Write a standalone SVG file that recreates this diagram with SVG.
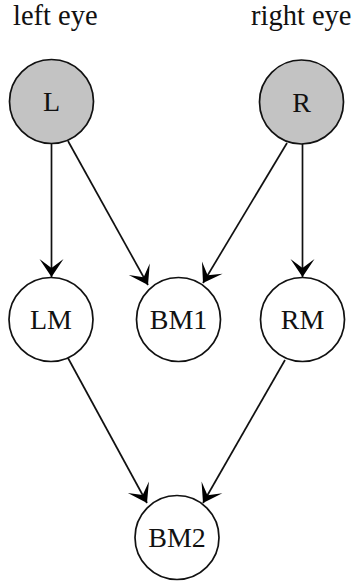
<svg xmlns="http://www.w3.org/2000/svg" width="352" height="581" viewBox="0 0 352 581">
<style>
  .node { stroke: #111; stroke-width: 1.7; fill: #fff; }
  .obs { fill: #c3c3c3; }
  .lbl { font-family: "Liberation Serif", "Times New Roman", serif; font-size: 28px; fill: #111; text-anchor: middle; }
  .hdr { font-family: "Liberation Serif", "Times New Roman", serif; font-size: 28.5px; fill: #111; }
  .edge { stroke: #111; stroke-width: 1.7; fill: none; marker-end: url(#arr); }
</style>
<defs>
  <marker id="arr" markerUnits="userSpaceOnUse" markerWidth="20" markerHeight="26" refX="18" refY="13" orient="auto" overflow="visible">
    <path d="M18,13 L0,1 L9,13 L0,25 Z" fill="#000"/>
  </marker>
</defs>
<rect width="352" height="581" fill="#fff"/>
<text class="hdr" x="13" y="25">left eye</text>
<text class="hdr" x="251" y="25">right eye</text>
<g id="connectors">
  <line class="edge" x1="51.5" y1="143" x2="51.5" y2="277"/>
  <line class="edge" x1="68" y1="141" x2="148" y2="285"/>
  <line class="edge" x1="287" y1="143" x2="203" y2="283"/>
  <line class="edge" x1="302.5" y1="144" x2="302.5" y2="277"/>
  <line class="edge" x1="68" y1="358" x2="147" y2="503"/>
  <line class="edge" x1="285" y1="360" x2="203" y2="503"/>
</g>
<g id="L">
  <circle class="node obs" cx="51.5" cy="101.5" r="42"/>
  <text class="lbl" x="51.5" y="111">L</text>
</g>
<g id="R">
  <circle class="node obs" cx="301.5" cy="102" r="42"/>
  <text class="lbl" x="301.5" y="111.5">R</text>
</g>
<g id="LM">
  <circle class="node" cx="51" cy="319.5" r="42"/>
  <text class="lbl" x="51" y="329">LM</text>
</g>
<g id="BM1">
  <circle class="node" cx="178.5" cy="319.5" r="42"/>
  <text class="lbl" x="178.5" y="329">BM1</text>
</g>
<g id="RM">
  <circle class="node" cx="302.5" cy="319.5" r="42"/>
  <text class="lbl" x="302.5" y="329">RM</text>
</g>
<g id="BM2">
  <circle class="node" cx="177" cy="537.5" r="42"/>
  <text class="lbl" x="177" y="547">BM2</text>
</g>
</svg>
